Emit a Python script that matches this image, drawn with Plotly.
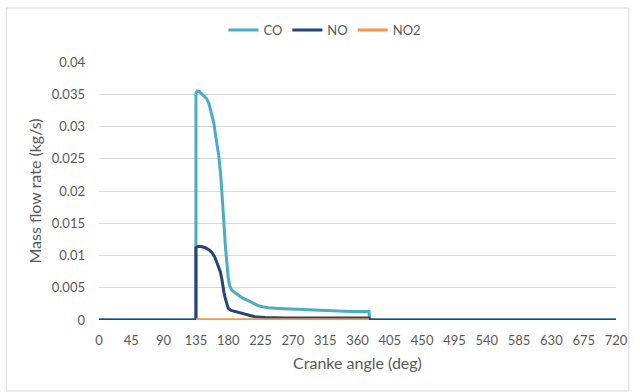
import plotly.graph_objects as go

# Crank angle (deg) and mass flow rate (kg/s) for each species
co_angle = [0, 135, 135, 137, 140, 145, 150, 153, 157, 160, 162, 165, 167, 170, 172, 174, 176, 178, 180, 182, 185, 190, 195, 200, 208, 215, 222, 230, 236, 250, 272, 300, 323, 350, 376, 377, 720]
co_rate = [0, 0, 0.0352, 0.0355, 0.0354, 0.0349, 0.0343, 0.0336, 0.0320, 0.0305, 0.0289, 0.0268, 0.0253, 0.0217, 0.0190, 0.0150, 0.0114, 0.0085, 0.0065, 0.0053, 0.0046, 0.0042, 0.0038, 0.0034, 0.0030, 0.0026, 0.0022, 0.0020, 0.0019, 0.0018, 0.0017, 0.0016, 0.0014, 0.0013, 0.0013, 0, 0]

no_angle = [0, 135, 135, 138, 142, 148, 153, 157, 161, 164, 167, 169, 171, 172, 174, 176, 178, 180, 184, 190, 197, 203, 210, 217, 231, 260, 320, 376, 377, 720]
no_rate = [0, 0, 0.0112, 0.0114, 0.0114, 0.0112, 0.0109, 0.0105, 0.0098, 0.0090, 0.0082, 0.0075, 0.0064, 0.0054, 0.0043, 0.0033, 0.0024, 0.0018, 0.0015, 0.0013, 0.0011, 0.0009, 0.0007, 0.0005, 0.0004, 0.0003, 0.0003, 0.0003, 0, 0]

no2_angle = [135, 200, 260, 320, 376]
no2_rate = [0.00002, 0.00002, 0.00002, 0.00002, 0.00002]

x_ticks = list(range(0, 721, 45))
y_ticks = [0, 0.005, 0.01, 0.015, 0.02, 0.025, 0.03, 0.035, 0.04]
y_tick_text = ["0", "0.005", "0.01", "0.015", "0.02", "0.025", "0.03", "0.035", "0.04"]

fig = go.Figure()
fig.add_trace(go.Scatter(x=co_angle, y=co_rate, mode="lines", name="CO",
                         line=dict(color="#4bacc6", width=3)))
fig.add_trace(go.Scatter(x=no_angle, y=no_rate, mode="lines", name="NO",
                         line=dict(color="#264478", width=3)))
fig.add_trace(go.Scatter(x=no2_angle, y=no2_rate, mode="lines", name="NO2",
                         line=dict(color="#f79646", width=3)))

L, R, T, B = 99, 17, 62, 72
pw = 640 - L - R
ph = 392 - T - B

def px_x(p):
    return (p - L) / pw

def px_y(p):
    return (392 - B - p) / ph

txt = "#595959"
fig.update_layout(
    width=640, height=392,
    margin=dict(l=L, r=R, t=T, b=B),
    paper_bgcolor="white", plot_bgcolor="white",
    font=dict(family="Lato, Open Sans, sans-serif", color=txt, size=13),
    showlegend=True,
    legend=dict(orientation="h", x=px_x(328), y=px_y(30), xanchor="center", yanchor="middle",
                font=dict(size=13, color=txt), itemwidth=30, tracegroupgap=0,
                bgcolor="rgba(0,0,0,0)"),
    xaxis=dict(range=[0, 720], tickvals=x_ticks, showgrid=False, zeroline=False,
               showline=False, ticks="", ticklabelstandoff=11,
               tickfont=dict(size=13, color=txt),
               title=dict(text="Cranke angle (deg)", font=dict(size=16, color=txt), standoff=10)),
    yaxis=dict(range=[0, 0.04], tickvals=y_ticks, ticktext=y_tick_text, showgrid=True,
               gridcolor="#d9d9d9", gridwidth=1, zeroline=False, showline=False, ticks="",
               ticklabelstandoff=13,
               tickfont=dict(size=13, color=txt),
               title=dict(text="Mass flow rate (kg/s)", font=dict(size=16, color=txt), standoff=6)),
    shapes=[dict(type="rect", xref="paper", yref="paper",
                 x0=px_x(5), x1=px_x(636), y0=px_y(391), y1=px_y(8),
                 line=dict(color="#d9d9d9", width=1), layer="below")],
)

fig.write_html("out.html")
